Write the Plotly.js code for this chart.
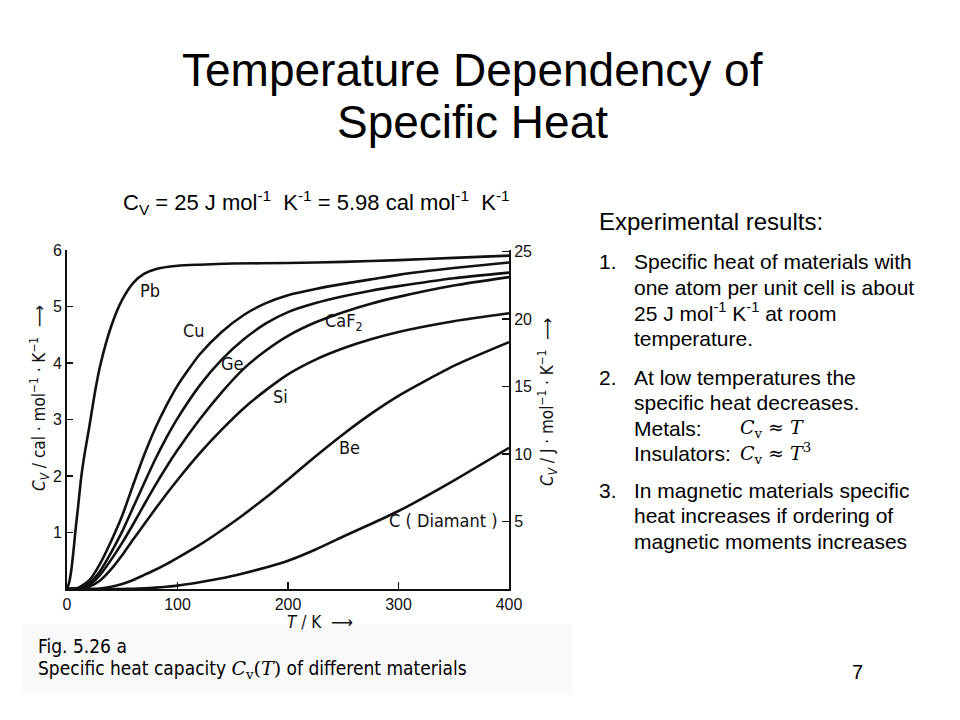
<!DOCTYPE html>
<html>
<head>
<meta charset="utf-8">
<script src="https://cdn.plot.ly/plotly-3.0.1.min.js"></script>
<style>
  body { margin: 0; background: #fff; }
  #plot { width: 960px; height: 720px; }
</style>
</head>
<body>
<div id="plot"></div>
<script>
// temperature grid (K) for most curves, Pb needs a finer one at low T
const tAll = [0, 10, 20, 30, 40, 50, 60, 70, 80, 90, 100, 120, 140, 160, 180, 200, 225, 250, 275, 300, 350, 400];
const tPb = [0, 2, 4, 6, 8, 10, 13, 16, 20, 25, 30, 40, 50, 60, 70, 80, 100, 120, 150, 200, 250, 300, 350, 400];

// Cv in cal mol^-1 K^-1
const cvPb   = [0, 0.12, 0.35, 0.7, 1.1, 1.45, 2.0, 2.4, 2.85, 3.45, 3.95, 4.65, 5.12, 5.42, 5.58, 5.66, 5.72, 5.74, 5.76, 5.77, 5.79, 5.82, 5.86, 5.9];
const cvCu   = [0, 0.02, 0.15, 0.45, 0.85, 1.3, 1.85, 2.38, 2.85, 3.25, 3.6, 4.15, 4.55, 4.85, 5.06, 5.2, 5.31, 5.4, 5.48, 5.56, 5.68, 5.78];
const cvGe   = [0, 0.01, 0.1, 0.32, 0.65, 1.02, 1.45, 1.88, 2.3, 2.68, 3.02, 3.6, 4.06, 4.42, 4.7, 4.9, 5.06, 5.18, 5.28, 5.36, 5.5, 5.6];
const cvCaF2 = [0, 0.01, 0.07, 0.25, 0.52, 0.82, 1.15, 1.5, 1.84, 2.16, 2.46, 3.0, 3.48, 3.9, 4.22, 4.48, 4.72, 4.9, 5.05, 5.17, 5.37, 5.52];
const cvSi   = [0, 0, 0.04, 0.15, 0.35, 0.6, 0.88, 1.15, 1.42, 1.68, 1.93, 2.4, 2.82, 3.2, 3.52, 3.8, 4.06, 4.26, 4.42, 4.55, 4.74, 4.88];
const cvBe   = [0, 0, 0, 0.01, 0.04, 0.09, 0.16, 0.25, 0.34, 0.44, 0.55, 0.78, 1.04, 1.32, 1.62, 1.94, 2.35, 2.74, 3.1, 3.42, 3.95, 4.37];
const cvC    = [0, 0, 0, 0, 0, 0, 0.004, 0.012, 0.025, 0.04, 0.06, 0.12, 0.19, 0.28, 0.38, 0.5, 0.7, 0.93, 1.15, 1.38, 1.92, 2.5];

// curve labels: name, T, Cv
const labelNames = ['Pb', 'Cu', 'Ge', 'CaF<sub>2</sub>', 'Si', 'Be', 'C ( Diamant )'];
const labelT     = [75, 115, 150, 251, 193, 256, 341];
const labelCv    = [5.28, 4.57, 4.0, 4.73, 3.4, 2.5, 1.22];

const xTicks = [0, 100, 200, 300, 400];
const yTicks = [1, 2, 3, 4, 5, 6];
const yTicksJ = [5, 10, 15, 20, 25];
const calToJ = 4.184;

const slideFont = 'Liberation Sans, Arial, sans-serif';
const figFont = 'Liberation Sans Narrow, DejaVu Sans Condensed, Liberation Sans, sans-serif';

// plot area in pixels
const L = 67, R = 509, T = 250, B = 589;
const px = x => (x - L) / (R - L);
const py = y => (B - y) / (B - T);

function curve(x, y) {
  return {
    x: x, y: y, type: 'scatter', mode: 'lines',
    line: { color: '#111', width: 2.6, shape: 'spline', smoothing: 0.6 },
    hoverinfo: 'skip', showlegend: false
  };
}

const data = [
  curve(tPb, cvPb),
  curve(tAll, cvCu),
  curve(tAll, cvGe),
  curve(tAll, cvCaF2),
  curve(tAll, cvSi),
  curve(tAll, cvBe),
  curve(tAll, cvC)
];

// dummy trace so the right axis gets drawn
data.push({ x: [0], y: [0], yaxis: 'y2', mode: 'markers', marker: { opacity: 0 }, hoverinfo: 'skip', showlegend: false });

const annotations = [];
function text(x, y, t, size, opts) {
  annotations.push(Object.assign({
    xref: 'paper', yref: 'paper', x: px(x), y: py(y), text: t, showarrow: false,
    xanchor: 'left', yanchor: 'middle', font: { family: slideFont, size: size, color: '#000' }
  }, opts || {}));
}

// curve labels
labelNames.forEach((n, i) => {
  annotations.push({
    x: labelT[i], y: labelCv[i], xref: 'x', yref: 'y', text: n, showarrow: false,
    font: { family: figFont, size: 18, color: '#111' }
  });
});

// slide title
text(472, 70, 'Temperature Dependency of', 46, { xanchor: 'center' });
text(472, 122, 'Specific Heat', 46, { xanchor: 'center' });
text(316, 203, 'C<sub>V</sub> = 25 J mol<sup>-1</sup>  K<sup>-1</sup> = 5.98 cal mol<sup>-1</sup>  K<sup>-1</sup>', 22, { xanchor: 'center' });

// axis titles
const axFont = { family: figFont, size: 17, color: '#111' };
text(39, 398, '<i>C</i><sub><i>V</i></sub> / cal · mol<sup>−1</sup> · K<sup>−1</sup>  ⟶', 17,
  { xanchor: 'center', textangle: -90, font: axFont });
text(547, 402, '<i>C</i><sub><i>V</i></sub> / J · mol<sup>−1</sup> · K<sup>−1</sup>  ⟶', 17,
  { xanchor: 'center', textangle: -90, font: axFont });
text(320, 622, '<i>T</i> / K  ⟶', 17, { xanchor: 'center', font: axFont });

// right side notes
const math = s => '<span style="font-family:DejaVu Serif, Liberation Serif, serif">' + s + '</span>';
const body = 21;
text(597, 222, 'Experimental results:', 24);
text(597, 261, '1.', body);
text(632, 261, 'Specific heat of materials with', body);
text(632, 287, 'one atom per unit cell is about', body);
text(632, 312, '25 J mol<sup>-1</sup> K<sup>-1</sup> at room', body);
text(632, 338, 'temperature.', body);
text(597, 377, '2.', body);
text(632, 377, 'At low temperatures the', body);
text(632, 402, 'specific heat decreases.', body);
text(632, 428, 'Metals:', body);
text(738, 428, math('<i>C</i><sub>v</sub> ≈ <i>T</i>'), 19);
text(632, 453, 'Insulators:', body);
text(738, 453, math('<i>C</i><sub>v</sub> ≈ <i>T</i><sup>3</sup>'), 19);
text(597, 490, '3.', body);
text(632, 490, 'In magnetic materials specific', body);
text(632, 515, 'heat increases if ordering of', body);
text(632, 541, 'magnetic moments increases', body);

// caption and page number
const capFont = { family: figFont, size: 19, color: '#000' };
text(36, 646, 'Fig. 5.26 a', 19, { font: capFont });
text(36, 669, 'Specific heat capacity ' + math('<i>C</i><sub>v</sub>(<i>T</i>)') + ' of different materials', 19, { font: capFont });
text(857, 672, '7', 20, { xanchor: 'center' });

const tickFont = { family: slideFont, size: 16, color: '#111' };
const layout = {
  width: 960, height: 720,
  margin: { l: L, r: 960 - R, t: T, b: 720 - B },
  paper_bgcolor: '#fff', plot_bgcolor: '#fff',
  showlegend: false,
  xaxis: {
    range: [0, 400], tickvals: xTicks, ticks: 'inside', ticklen: 7, tickwidth: 1.5, tickcolor: '#111',
    showline: true, linecolor: '#111', linewidth: 2, showgrid: false, zeroline: false,
    tickfont: tickFont
  },
  yaxis: {
    range: [0, 6], tickvals: yTicks, ticks: 'inside', ticklen: 6, tickwidth: 1.5, tickcolor: '#111',
    showline: true, linecolor: '#111', linewidth: 2, showgrid: false, zeroline: false,
    tickfont: tickFont
  },
  yaxis2: {
    overlaying: 'y', side: 'right', range: [0, 6 * calToJ], tickvals: yTicksJ,
    ticks: 'inside', ticklen: 7, tickwidth: 1.5, tickcolor: '#111',
    showline: true, linecolor: '#111', linewidth: 2, showgrid: false, zeroline: false,
    tickfont: tickFont
  },
  shapes: [{
    type: 'rect', xref: 'paper', yref: 'paper', layer: 'below',
    x0: px(22), x1: px(572), y0: py(624), y1: py(694),
    fillcolor: '#f9f9f9', line: { width: 0 }
  }],
  annotations: annotations
};

Plotly.newPlot('plot', data, layout, { staticPlot: true });
</script>
</body>
</html>
